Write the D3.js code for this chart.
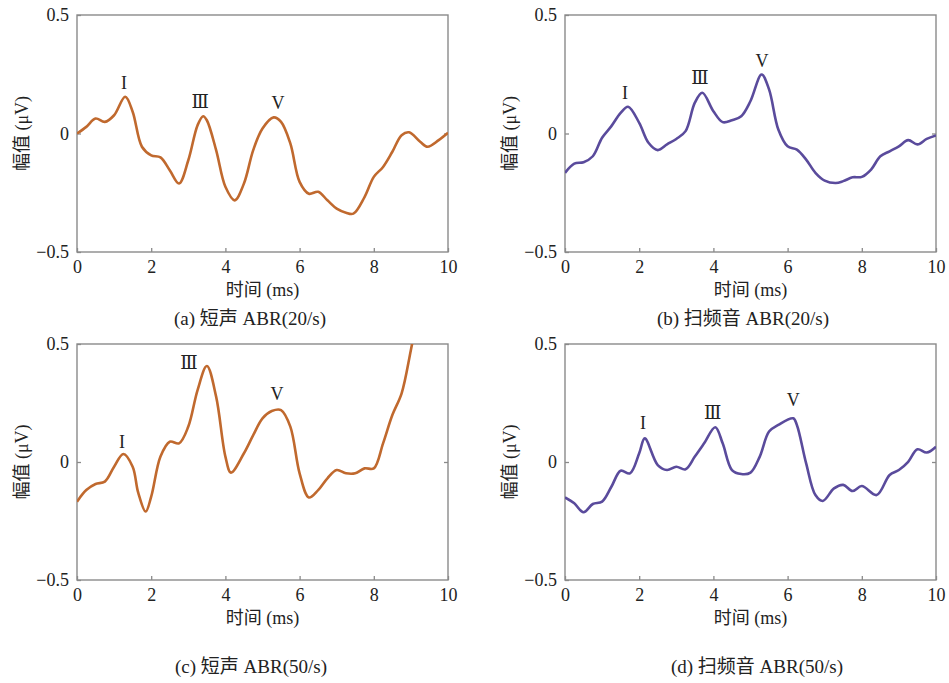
<!DOCTYPE html>
<html>
<head>
<meta charset="utf-8">
<script src="https://cdn.jsdelivr.net/npm/d3@7"></script>
<style>
body { margin: 0; background: #fff; }
svg text { fill: #222; }
</style>
</head>
<body>
<div id="chart"></div>
<script>
// sampled waveforms (time in ms, amplitude in uV)
var tA = [0,0.25,0.5,0.75,1,1.3,1.5,1.75,2,2.25,2.5,2.75,3,3.25,3.4,3.5,3.75,4,4.25,4.5,4.75,5,5.3,5.5,5.75,6,6.25,6.5,6.75,7,7.25,7.45,7.75,8,8.25,8.5,8.75,8.95,9.25,9.45,9.75,10];
var vA = [0,0.028,0.063,0.049,0.077,0.155,0.092,-0.056,-0.092,-0.101,-0.155,-0.211,-0.113,0.035,0.073,0.056,-0.07,-0.225,-0.282,-0.211,-0.07,0.021,0.068,0.049,-0.042,-0.204,-0.254,-0.246,-0.282,-0.317,-0.334,-0.338,-0.268,-0.183,-0.141,-0.077,-0.007,0.005,-0.035,-0.056,-0.028,0.003];

var tB = [0,0.25,0.5,0.75,1,1.25,1.5,1.7,2,2.25,2.5,2.75,3,3.25,3.5,3.7,4,4.25,4.5,4.75,5,5.3,5.5,5.75,6,6.25,6.5,6.75,7,7.3,7.5,7.75,8,8.25,8.5,8.75,9,9.25,9.5,9.75,10];
var vB = [-0.166,-0.127,-0.121,-0.096,-0.018,0.031,0.087,0.113,0.045,-0.039,-0.07,-0.046,-0.023,0.01,0.13,0.172,0.094,0.048,0.056,0.073,0.137,0.249,0.186,0.017,-0.054,-0.068,-0.11,-0.166,-0.199,-0.209,-0.201,-0.185,-0.183,-0.152,-0.096,-0.075,-0.054,-0.028,-0.046,-0.023,-0.008];

var tC = [0,0.25,0.5,0.75,1,1.25,1.5,1.65,1.85,2,2.25,2.5,2.75,3,3.25,3.5,3.75,4,4.15,4.5,4.75,5,5.25,5.5,5.75,6,6.25,6.5,6.75,7,7.25,7.5,7.75,8,8.25,8.5,8.75,9,9.25];
var vC = [-0.168,-0.119,-0.093,-0.083,-0.02,0.034,-0.02,-0.13,-0.21,-0.147,0.023,0.086,0.079,0.15,0.305,0.407,0.277,0.023,-0.045,0.037,0.114,0.185,0.216,0.22,0.15,-0.048,-0.15,-0.119,-0.069,-0.034,-0.048,-0.048,-0.027,-0.027,0.079,0.199,0.291,0.475,0.68];

var tD = [0,0.25,0.5,0.75,1,1.25,1.5,1.75,2,2.15,2.5,2.75,3,3.25,3.5,3.75,4.05,4.25,4.5,4.75,5,5.25,5.5,5.75,6.15,6.25,6.5,6.75,6.95,7.25,7.5,7.75,8,8.4,8.75,9,9.25,9.5,9.75,10];
var vD = [-0.15,-0.175,-0.213,-0.178,-0.168,-0.105,-0.037,-0.048,0.037,0.1,-0.013,-0.034,-0.02,-0.031,0.023,0.079,0.147,0.079,-0.034,-0.051,-0.045,0.023,0.129,0.157,0.185,0.157,-0.006,-0.14,-0.165,-0.112,-0.097,-0.123,-0.102,-0.14,-0.055,-0.034,0.001,0.054,0.04,0.065];

// peak labels: name and anchor (ms, uV)
var peakNames = ["I", "Ⅲ", "V"];
var peaksA = [[1.27, 0.213], [3.32, 0.133], [5.42, 0.129]];
var peaksB = [[1.62, 0.171], [3.64, 0.234], [5.31, 0.306]];
var peaksC = [[1.21, 0.084], [3.02, 0.42], [5.39, 0.29]];
var peaksD = [[2.10, 0.165], [3.98, 0.207], [6.15, 0.262]];

var captions = ["(a) 短声 ABR(20/s)", "(b) 扫频音 ABR(20/s)", "(c) 短声 ABR(50/s)", "(d) 扫频音 ABR(50/s)"];
var xTicks = [0, 2, 4, 6, 8, 10];
var yTicks = [-0.5, 0, 0.5];

var orange = "#c0692e", purple = "#5a4b9c";
var serif = "'Liberation Serif', 'DejaVu Serif', serif";
var mixed = "'Liberation Serif', 'Noto Sans CJK SC', serif";

var width = 949, height = 683;
var svg = d3.select("#chart").append("svg").attr("width", width).attr("height", height);

var panels = [
	{t: tA, v: vA, peaks: peaksA, color: orange, left: 77, right: 448, top: 15, bottom: 252, capX: 250, capY: 325},
	{t: tB, v: vB, peaks: peaksB, color: purple, left: 565, right: 936, top: 15, bottom: 252, capX: 743, capY: 325},
	{t: tC, v: vC, peaks: peaksC, color: orange, left: 77, right: 448, top: 344, bottom: 580, capX: 251, capY: 673},
	{t: tD, v: vD, peaks: peaksD, color: purple, left: 565, right: 936, top: 344, bottom: 580, capX: 757, capY: 673}
];

function drawPanel(p, i){
	var x = d3.scaleLinear().domain([0, 10]).range([p.left, p.right]);
	var y = d3.scaleLinear().domain([-0.5, 0.5]).range([p.bottom, p.top]);
	var g = svg.append("g");

	// bottom axis, ticks pointing in
	var xa = g.append("g")
		.attr("transform", "translate(0," + p.bottom + ")")
		.call(d3.axisBottom(x).tickValues(xTicks).tickSize(-4).tickPadding(8).tickFormat(d3.format("d")));
	// left axis
	var ya = g.append("g")
		.attr("transform", "translate(" + p.left + ",0)")
		.call(d3.axisLeft(y).tickValues(yTicks).tickSize(-4).tickPadding(8).tickFormat(d3.format("")));
	// right axis, ticks only
	var ra = g.append("g")
		.attr("transform", "translate(" + p.right + ",0)")
		.call(d3.axisRight(y).tickValues([0]).tickSize(-4).tickFormat(""));

	[xa, ya, ra].forEach(function(a){
		a.attr("font-family", serif).attr("font-size", 18);
		a.select(".domain").remove();
		a.selectAll("line").attr("stroke", "#8a8a8a").attr("stroke-width", 1.3);
		a.selectAll("text").style("font-family", serif).attr("fill", "#222");
	});

	// frame
	g.append("rect")
		.attr("x", p.left).attr("y", p.top)
		.attr("width", p.right - p.left).attr("height", p.bottom - p.top)
		.attr("fill", "none").attr("stroke", "#8a8a8a").attr("stroke-width", 1.4);

	// clip for the waveform
	var cid = "clip" + i;
	svg.append("clipPath").attr("id", cid).append("rect")
		.attr("x", p.left).attr("y", p.top)
		.attr("width", p.right - p.left).attr("height", p.bottom - p.top);

	var pts = p.t.map(function(t, k){ return [t, p.v[k]]; });
	var line = d3.line()
		.x(function(d){ return x(d[0]); })
		.y(function(d){ return y(d[1]); })
		.curve(d3.curveCatmullRom.alpha(0.5));
	g.append("path")
		.datum(pts)
		.attr("clip-path", "url(#" + cid + ")")
		.attr("d", line)
		.attr("fill", "none")
		.attr("stroke", p.color)
		.attr("stroke-width", 2.6)
		.attr("stroke-linejoin", "round");

	// peak labels
	for (var k = 0; k < p.peaks.length; k++) {
		g.append("text")
			.style("font-family", serif)
			.attr("x", x(p.peaks[k][0]))
			.attr("y", y(p.peaks[k][1]))
			.attr("dy", "0.35em")
			.attr("text-anchor", "middle")
			.attr("font-size", 18)
			.text(peakNames[k]);
	}

	// axis titles
	g.append("text")
		.style("font-family", mixed)
		.attr("x", (p.left + p.right) / 2)
		.attr("y", p.bottom + 44)
		.attr("text-anchor", "middle")
		.attr("font-size", 18)
		.text("时间 (ms)");

	g.append("text")
		.style("font-family", mixed)
		.attr("transform", "translate(" + (p.left - 55) + "," + ((p.top + p.bottom) / 2) + ") rotate(-90)")
		.attr("dy", "0.35em")
		.attr("text-anchor", "middle")
		.attr("font-size", 18)
		.text("幅值 (μV)");

	// caption
	g.append("text")
		.style("font-family", mixed)
		.attr("x", p.capX)
		.attr("y", p.capY)
		.attr("text-anchor", "middle")
		.attr("font-size", 19)
		.text(captions[i]);
}

for (var i = 0; i < panels.length; i++) {
	drawPanel(panels[i], i);
}
</script>
</body>
</html>
